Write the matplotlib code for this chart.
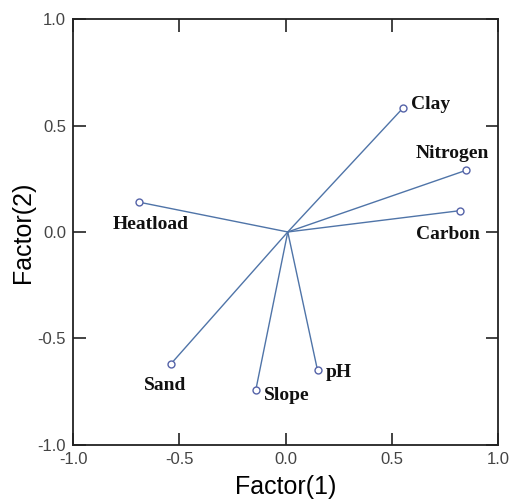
import matplotlib.pyplot as plt
import numpy as np

# factor loadings for each soil / site variable
variables = ['Clay', 'Nitrogen', 'Carbon', 'Heatload', 'Sand', 'Slope', 'pH']
factor1 = np.array([0.55, 0.85, 0.82, -0.69, -0.54, -0.14, 0.15])
factor2 = np.array([0.58, 0.29, 0.10, 0.14, -0.62, -0.74, -0.65])
origin_x = 0.01
origin_y = 0.0

# label placement relative to the loading point (pixels) and alignment
label_offsets = {
    'Clay': (8, 4, 'left'),
    'Nitrogen': (-14, 17, 'center'),
    'Carbon': (-12, -24, 'center'),
    'Heatload': (12, -22, 'center'),
    'Sand': (-6, -22, 'center'),
    'Slope': (8, -6, 'left'),
    'pH': (8, -2, 'left'),
}

fig = plt.figure(figsize=(5.11, 5.01), dpi=100)
ax = fig.add_axes([0.143, 0.112, 0.832, 0.85])

line_color = '#4f74a8'
for name, x, y in zip(variables, factor1, factor2):
    ax.plot([origin_x, x], [origin_y, y], color=line_color, lw=1.0, zorder=2)
    ax.plot(x, y, 'o', ms=5, mfc='white', mec='#5563a8', mew=1.0, zorder=3)
    dx, dy, ha = label_offsets[name]
    ax.annotate(name, (x, y), xytext=(dx, dy), textcoords='offset pixels',
                ha=ha, va='center', fontsize=14, fontweight='bold',
                family='Liberation Serif', color='#111111')

ax.set_xlim(-1.0, 1.0)
ax.set_ylim(-1.0, 1.0)
ticks = [-1.0, -0.5, 0.0, 0.5, 1.0]
ax.set_xticks(ticks)
ax.set_yticks(ticks)
ax.set_xticklabels(['%.1f' % t for t in ticks])
ax.set_yticklabels(['%.1f' % t for t in ticks])
ax.tick_params(direction='in', length=9, width=1.2, top=True, right=True,
               labelsize=12, colors='#222222', labelcolor='#444444', pad=5)
for lab in ax.get_xticklabels() + ax.get_yticklabels():
    lab.set_family('Liberation Sans')
for sp in ax.spines.values():
    sp.set_linewidth(1.3)
    sp.set_color('#222222')

ax.set_xlabel('Factor(1)', fontsize=18, family='Liberation Sans', labelpad=6)
ax.set_ylabel('Factor(2)', fontsize=18, family='Liberation Sans', labelpad=2)

fig.savefig('out.png', dpi=100)
